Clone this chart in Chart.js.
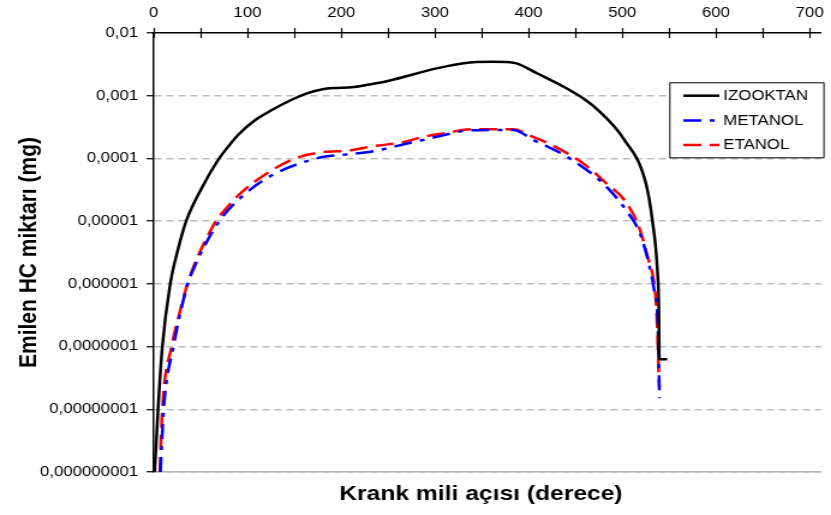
<!DOCTYPE html>
<html>
<head>
<meta charset="utf-8">
<script src="https://cdn.jsdelivr.net/npm/chart.js@4/dist/chart.umd.min.js"></script>
<style>
  html, body { margin: 0; padding: 0; background: #fff; overflow: hidden; }
  #wrap { width: 692px; height: 515px; transform: scaleX(1.2009); transform-origin: 0 0; }
  canvas { display: block; }
</style>
</head>
<body>
<div id="wrap"><canvas id="c" width="692" height="515"></canvas></div>
<script>
// Crank angle (degrees) and emitted HC mass (mg) for each fuel
const izooktanX = [1, 4.6, 9.2, 17.6, 25.8, 34.6, 52, 68, 80, 91, 108, 126, 145, 162, 179, 195, 211, 230, 250, 303, 331, 360, 380, 388, 409, 437, 458, 472, 502, 525, 532, 537.6, 539, 539.5, 548];
const izooktanY = [1e-9, 1e-8, 1e-7, 1e-6, 3.5e-6, 1e-5, 3.55e-5, 9.1e-5, 1.58e-4, 2.45e-4, 4.07e-4, 5.9e-4, 8.3e-4, 1.07e-3, 1.26e-3, 1.33e-3, 1.36e-3, 1.51e-3, 1.72e-3, 2.75e-3, 3.3e-3, 3.47e-3, 3.43e-3, 3.24e-3, 2.28e-3, 1.4e-3, 9.1e-4, 6.3e-4, 2.0e-4, 4.1e-5, 1.05e-5, 1.5e-6, 4e-7, 6.3e-8, 6.3e-8];

const metanolX = [7.2, 10.6, 21, 36.3, 45, 52, 69.9, 94.6, 119.3, 140.3, 161.7, 183, 204, 225, 246, 268, 292, 310, 338, 384, 405, 420, 444, 481, 504, 519, 529, 534, 537.6, 539.8];
const metanolY = [1e-9, 1e-8, 1e-7, 1e-6, 2.1e-6, 3.5e-6, 1e-5, 2.5e-5, 4.7e-5, 6.8e-5, 8.9e-5, 1.07e-4, 1.15e-4, 1.24e-4, 1.41e-4, 1.7e-4, 2.04e-4, 2.37e-4, 2.8e-4, 2.85e-4, 1.97e-4, 1.55e-4, 1.0e-4, 3.8e-5, 1.5e-5, 6.3e-6, 1.9e-6, 8.0e-7, 3.0e-7, 1.5e-8];

const etanolX = [6.5, 9.2, 19, 27.5, 36, 48.7, 59.3, 66.4, 80, 94.6, 119.3, 151, 181, 207.6, 236, 264, 292, 313.5, 338, 384, 402, 424, 458, 483, 503, 518, 527, 534, 536.5, 539.4];
const etanolY = [1e-9, 1e-8, 1e-7, 3.4e-7, 1e-6, 3.1e-6, 6.5e-6, 1e-5, 1.78e-5, 2.95e-5, 5.6e-5, 1e-4, 1.26e-4, 1.33e-4, 1.58e-4, 1.79e-4, 2.29e-4, 2.57e-4, 2.92e-4, 2.92e-4, 2.29e-4, 1.66e-4, 8.4e-5, 4.0e-5, 2.1e-5, 7.9e-6, 2.7e-6, 1.0e-6, 3.9e-7, 2.2e-8];

const seriesNames = ['IZOOKTAN', 'METANOL', 'ETANOL'];

// Axis ticks
const xTickValues = [0, 50, 100, 150, 200, 250, 300, 350, 400, 450, 500, 550, 600, 650, 700];
const xTickLabels = ['0', '', '100', '', '200', '', '300', '', '400', '', '500', '', '600', '', '700'];
const yTickValues = [1e-2, 1e-3, 1e-4, 1e-5, 1e-6, 1e-7, 1e-8, 1e-9];
const yTickLabels = ['0,01', '0,001', '0,0001', '0,00001', '0,000001', '0,0000001', '0,00000001', '0,000000001'];

const xTitle = 'Krank mili açısı (derece)';
const yTitle = 'Emilen HC miktarı (mg)';

const FONT = 'Liberation Sans, Arial, Helvetica, sans-serif';

function pairs(xs, ys) { return xs.map((x, i) => ({ x: x, y: ys[i] })); }

// Tick marks of the top axis also reach a little into the plot
const innerTicks = {
  id: 'innerTicks',
  afterDraw(chart) {
    const s = chart.scales.x, ctx = chart.ctx, top = chart.chartArea.top;
    ctx.save();
    ctx.strokeStyle = '#000';
    ctx.lineWidth = 1.2;
    s.ticks.forEach(t => {
      const px = Math.round(s.getPixelForValue(t.value)) + 0.5;
      ctx.beginPath(); ctx.moveTo(px, top); ctx.lineTo(px, top + 5); ctx.stroke();
    });
    ctx.restore();
  }
};

// Boxed legend inside the plot
const boxLegend = {
  id: 'boxLegend',
  afterDraw(chart) {
    const ctx = chart.ctx;
    const bx = 557.3, by = 82.3, bw = 128.3, bh = 75;
    ctx.save();
    ctx.fillStyle = '#fff';
    ctx.fillRect(bx, by, bw, bh);
    ctx.strokeStyle = '#000';
    ctx.lineWidth = 1;
    ctx.strokeRect(bx + 0.5, by + 0.5, bw, bh);
    chart.data.datasets.forEach((ds, i) => {
      const y = 95.7 + i * 24.7;
      ctx.strokeStyle = ds.borderColor;
      ctx.lineWidth = ds.borderWidth;
      ctx.setLineDash(ds.borderDash || []);
      ctx.beginPath(); ctx.moveTo(569, y); ctx.lineTo(599, y); ctx.stroke();
      ctx.setLineDash([]);
      ctx.fillStyle = '#000';
      ctx.font = '14px ' + FONT;
      ctx.textBaseline = 'middle';
      ctx.textAlign = 'left';
      ctx.fillText(ds.label, 602.3, y + 0.5);
    });
    ctx.restore();
  }
};

// Horizontal axis title under the plot
const bottomTitle = {
  id: 'bottomTitle',
  afterDraw(chart) {
    const ctx = chart.ctx;
    ctx.save();
    ctx.fillStyle = '#000';
    ctx.font = 'bold 20.5px ' + FONT;
    ctx.textAlign = 'center';
    ctx.textBaseline = 'middle';
    ctx.fillText(xTitle, 400.5, 494);
    ctx.restore();
  }
};

new Chart(document.getElementById('c'), {
  type: 'line',
  data: {
    datasets: [
      { label: seriesNames[0], data: pairs(izooktanX, izooktanY), borderColor: '#000000', borderWidth: 2.5, borderDash: [], pointRadius: 0, cubicInterpolationMode: 'monotone', fill: false },
      { label: seriesNames[1], data: pairs(metanolX, metanolY), borderColor: '#0000ff', borderWidth: 2.5, borderDash: [15, 7, 4, 7], pointRadius: 0, cubicInterpolationMode: 'monotone', fill: false },
      { label: seriesNames[2], data: pairs(etanolX, etanolY), borderColor: '#ff0000', borderWidth: 2.5, borderDash: [15, 7], pointRadius: 0, cubicInterpolationMode: 'monotone', fill: false }
    ]
  },
  options: {
    responsive: false,
    animation: false,
    devicePixelRatio: 1,
    layout: { padding: { left: 0, right: 4, top: 0, bottom: 0 } },
    plugins: { legend: { display: false }, tooltip: { enabled: false }, title: { display: false } },
    scales: {
      x: {
        type: 'linear', position: 'top', min: 0, max: 712,
        afterBuildTicks: s => { s.ticks = xTickValues.map(v => ({ value: v })); },
        afterFit: s => { s.height = 33; },
        ticks: {
          autoSkip: false, maxRotation: 0, padding: 6, color: '#000',
          font: { family: FONT, size: 14 },
          callback: v => { const i = xTickValues.indexOf(v); return i >= 0 ? xTickLabels[i] : ''; }
        },
        grid: { drawOnChartArea: false, drawTicks: true, tickLength: 5, tickColor: '#000', tickWidth: 1.2 },
        border: { display: true, color: '#000', width: 1.5 }
      },
      x2: {
        type: 'linear', position: 'bottom', min: 0, max: 712,
        afterFit: s => { s.height = 43; },
        ticks: { display: false },
        grid: { display: false, drawTicks: false },
        border: { display: true, color: '#b4b4b4', width: 1.5 }
      },
      y: {
        type: 'logarithmic', position: 'left', min: 1e-9, max: 1e-2,
        afterBuildTicks: s => { s.ticks = yTickValues.map(v => ({ value: v })); },
        afterFit: s => { s.width = 128; },
        ticks: {
          autoSkip: false, padding: 7, color: '#000',
          font: { family: FONT, size: 14 },
          callback: v => { const i = yTickValues.findIndex(t => Math.abs(Math.log10(t) - Math.log10(v)) < 1e-6); return i >= 0 ? yTickLabels[i] : ''; }
        },
        grid: {
          drawOnChartArea: true, drawTicks: true, tickLength: 6, tickColor: '#000', tickWidth: 1.2,
          lineWidth: 1.5,
          color: c => (c.tick && c.tick.value >= 1e-2 * 0.999) ? 'rgba(0,0,0,0)' : '#bdbdbd'
        },
        border: { display: true, color: '#000', width: 1.5, dash: [6, 4] },
        title: {
          display: true, text: yTitle, color: '#000',
          font: { family: FONT, size: 21, weight: 'bold' },
          padding: { top: 12, bottom: 0 }
        }
      }
    }
  },
  plugins: [innerTicks, boxLegend, bottomTitle]
});
</script>
</body>
</html>
